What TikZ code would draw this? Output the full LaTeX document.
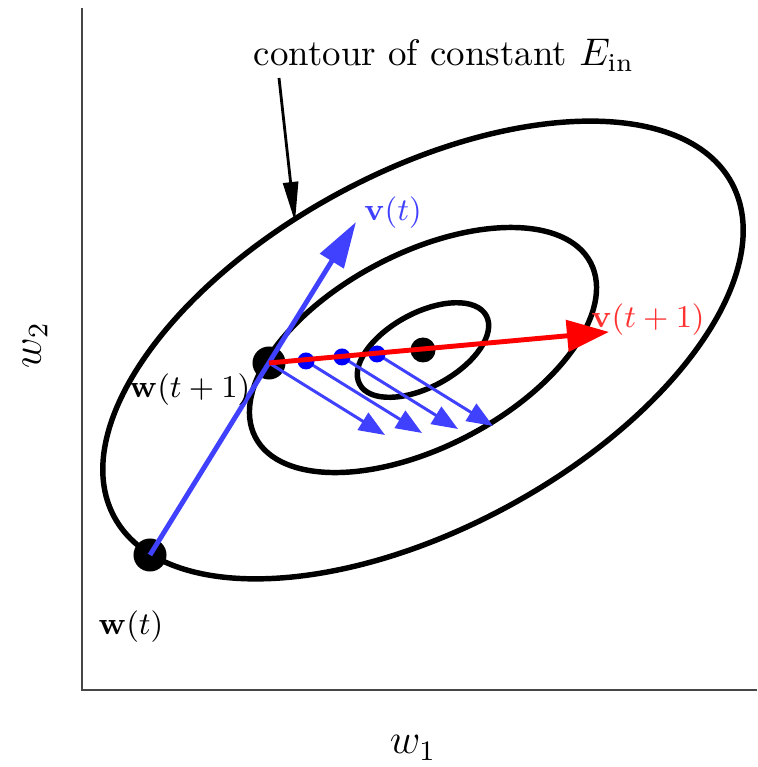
\documentclass[tikz,border=0pt]{standalone}
\usepackage{amsmath,amssymb}
\usepackage{tikz}
\usetikzlibrary{arrows.meta,positioning,calc}
\definecolor{vblue}{RGB}{64,64,255}
\definecolor{vred}{RGB}{255,50,50}
\definecolor{axgray}{RGB}{70,70,70}

\begin{document}
\begin{tikzpicture}[x=0.01cm, y=0.01cm,
    contour/.style={draw, line width=1.55pt},
    dot/.style={circle, fill=black, inner sep=0pt, minimum size=#1},
    bdot/.style={circle, fill=blue, inner sep=0pt, minimum size=0.17cm},
    grad/.style={vblue, line width=0.85pt, -{Triangle[length=0.26cm, width=0.2cm]}},
    lbl/.style={font=\fontsize{9.2}{11}\selectfont}
]
\useasboundingbox (0,0) rectangle (757,767);

% axes
\coordinate (O) at (82,77);
\coordinate (ytop) at (82,759);
\coordinate (xend) at (757,77);
\draw[axgray, line width=0.6pt] (ytop) -- (O) -- (xend);
\node[font=\fontsize{11.5}{13}\selectfont] (w1) at (413,19) {$w_1$};
\node[font=\fontsize{11.5}{13}\selectfont, rotate=90] (w2) at (35,422) {$w_2$};

% contours
\coordinate (ctr) at (423,417);
\draw[contour, rotate around={28.4:(ctr)}] (ctr) ellipse [x radius=351, y radius=178];
\draw[contour, rotate around={27.5:(ctr)}] (ctr) ellipse [x radius=189, y radius=97];
\draw[contour, rotate around={28.5:(ctr)}] (ctr) ellipse [x radius=72, y radius=37];

% points
\node[dot=0.33cm] (wt) at (150,212) {};
\node[dot=0.33cm] (wt1) at (269,404) {};
\node[dot=0.25cm] (wmin) at (ctr) {};

% first step
\coordinate (vt) at (356,545);
\draw[vblue, line width=1.4pt, -{Triangle[length=0.46cm, width=0.27cm]}] (wt.center) -- (vt);

% line search
\coordinate (b1) at (306,406);
\coordinate (b2) at (342,410);
\coordinate (b3) at (377,413);
\foreach \p in {wt1,b1,b2,b3}
    \draw[grad] (\p.center) -- ++(116,-72);
\foreach \p in {b1,b2,b3}
    \node[bdot] at (\p) {};

% next step
\coordinate (vt1) at (609,435);
\draw[red, line width=1.4pt, -{Triangle[length=0.42cm, width=0.31cm]}] (wt1.center) -- (vt1);

% labels
\node[lbl] (lwt) at (131,140) {$\mathbf{w}(t)$};
\node[lbl] (lwt1) at (190,377) {$\mathbf{w}(t+1)$};
\node[lbl, vblue] (lvt) at (393,554) {$\mathbf{v}(t)$};
\node[lbl, vred] (lvt1) at (648,447) {$\mathbf{v}(t+1)$};

\node[font=\fontsize{10.5}{12}\selectfont] (cap) at (444,712) {contour of constant $E_{\text{in}}$};
\coordinate (from) at (279,689);
\coordinate (tip) at (295,545);
\draw[line width=0.8pt, -{Triangle[length=0.4cm, width=0.15cm]}] (from) -- (tip);
\end{tikzpicture}
\end{document}
